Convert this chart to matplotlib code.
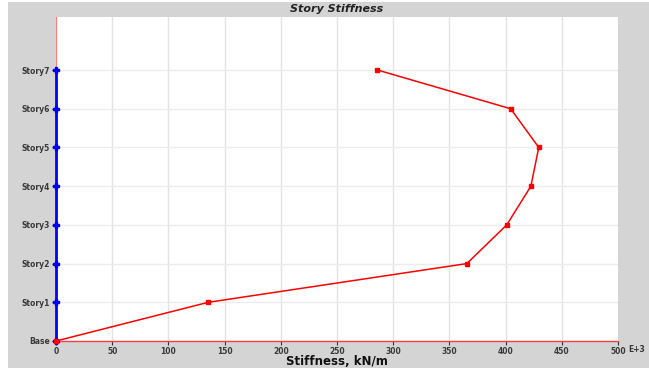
import matplotlib.pyplot as plt

# Story stiffness data (x in E+3 kN/m)
stories = ["Base", "Story1", "Story2", "Story3", "Story4", "Story5", "Story6", "Story7"]
stiffness = [0, 135.5, 365.5, 401, 422.5, 429.5, 404.5, 286]
x_ticks = [0, 50, 100, 150, 200, 250, 300, 350, 400, 450, 500]

W, H = 649, 371
fig = plt.figure(figsize=(W / 100, H / 100), dpi=100)
fig.patch.set_facecolor("white")

# gray panel behind the plot
bg = fig.add_axes([8 / W, 1 - 368 / H, 1 - 8 / W, (368 - 2) / H], zorder=-1)
bg.set_facecolor("#d4d4d4")
bg.set_xticks([])
bg.set_yticks([])
for s in bg.spines.values():
    s.set_visible(False)

ax = fig.add_axes([56 / W, 1 - 341 / H, (618 - 56) / W, (341 - 17) / H])
ax.set_facecolor("white")

levels = list(range(len(stories)))
ax.set_xlim(0, 500)
ax.set_ylim(0, 8.37)

# grid
for xv in x_ticks[1:-1]:
    ax.axvline(xv, color="#e3e3e3", lw=1, zorder=1)
for lv in levels[1:]:
    ax.axhline(lv, color="#ececec", lw=1, zorder=1)

# axes lines
ax.plot([0, 500], [0, 0], color="#ff4040", lw=1, zorder=2, clip_on=False)
ax.plot([0, 0], [levels[-1], 8.37], color="#ff6060", lw=1.2, zorder=2)
ax.plot([0] * len(levels), levels, color="#0000ff", lw=2, marker="P",
        markersize=4, zorder=3, clip_on=False)

# stiffness curve
ax.plot(stiffness, levels, color="#ff0000", lw=1.1, marker="s",
        markersize=3.5, zorder=4, clip_on=False)

for s in ax.spines.values():
    s.set_visible(False)

tick_font = dict(fontsize=5.5, fontweight="bold", color="#3a3a3a")
ax.set_xticks(x_ticks)
ax.set_xticklabels([str(v) for v in x_ticks], **tick_font)
ax.set_yticks(levels)
ax.set_yticklabels(stories, **tick_font)
ax.tick_params(axis="both", length=3, width=0.8, color="#333333", pad=1.5)

fig.text(628 / W, 1 - 349 / H, "E+3", ha="left", va="center", **tick_font)

fig.text(337 / W, 1 - 361.5 / H, "Stiffness, kN/m", fontsize=8.5,
         fontweight="bold", ha="center", va="center", color="#111111")
fig.text(337 / W, 1 - 9 / H, "Story Stiffness", fontsize=8,
         fontweight="bold", fontstyle="italic", ha="center", va="center",
         color="#222222")

fig.savefig("out.png", dpi=100)
